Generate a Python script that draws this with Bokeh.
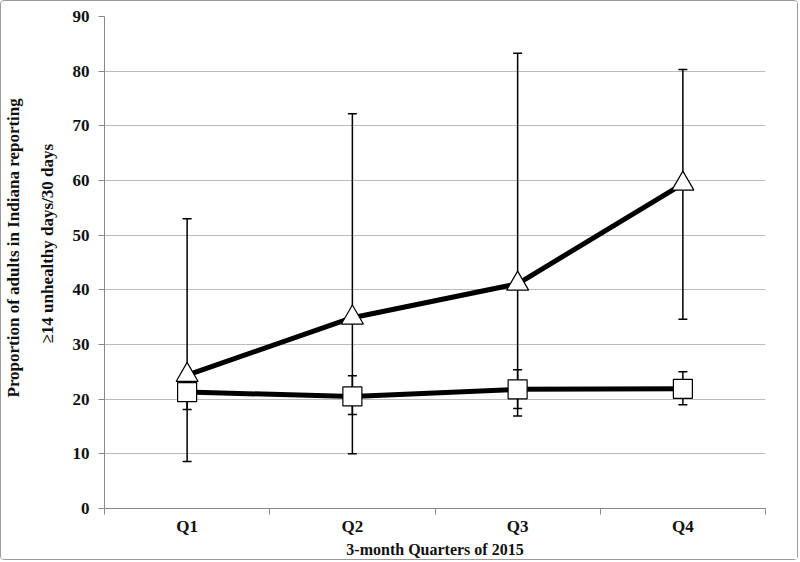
from bokeh.plotting import figure
from bokeh.models import ColumnDataSource, Whisker, TeeHead, FixedTicker, Range1d, Title
from bokeh.embed import file_html
from bokeh.resources import INLINE

quarters = ["Q1", "Q2", "Q3", "Q4"]
tri_vals = [24.4, 34.9, 41.1, 59.4]
tri_low = [8.6, 10.0, 16.9, 34.6]
tri_high = [53.0, 72.2, 83.3, 80.3]
sq_vals = [21.3, 20.5, 21.8, 21.9]
sq_low = [18.1, 17.2, 18.3, 19.0]
sq_high = [22.8, 24.3, 25.4, 25.0]
y_ticks = [0, 10, 20, 30, 40, 50, 60, 70, 80, 90]
x_title = "3-month Quarters of 2015"
y_title_lines = ["Proportion of adults in Indiana reporting", "≥14 unhealthy days/30 days"]

FONT = "Liberation Serif"
xs = [i + 1 for i in range(len(quarters))]

p = figure(width=798, height=560, output_backend="svg", toolbar_location=None,
           x_range=Range1d(0.5, len(quarters) + 0.5), y_range=Range1d(0, 90),
           min_border_left=102, min_border_right=34, min_border_top=15, min_border_bottom=53)
p.styles = {"border": "1px solid #9a9a9a", "border-radius": "4px"}
p.outline_line_color = None
p.background_fill_color = "white"
p.border_fill_color = "white"

# grid
p.xgrid.grid_line_color = None
p.ygrid.grid_line_color = "#bcbcbc"
p.ygrid.grid_line_width = 1

# axes
p.yaxis.ticker = FixedTicker(ticks=y_ticks)
p.xaxis.ticker = FixedTicker(ticks=xs, minor_ticks=[x - 0.5 for x in xs] + [xs[-1] + 0.5])
p.xaxis.major_label_overrides = {x: q for x, q in zip(xs, quarters)}
p.xaxis.major_tick_line_color = None
p.xaxis.minor_tick_line_color = "#8a8a8a"
p.xaxis.minor_tick_out = 6
p.xaxis.minor_tick_in = 0
p.yaxis.minor_tick_line_color = None
p.yaxis.major_tick_line_color = "#8a8a8a"
p.yaxis.major_tick_out = 6
p.yaxis.major_tick_in = 0
for ax in (p.xaxis, p.yaxis):
    ax.axis_line_color = "#8a8a8a"
    ax.major_label_text_font = FONT
    ax.major_label_text_font_style = "bold"
    ax.major_label_text_font_size = "17px"
    ax.major_label_text_color = "#111111"
    ax.axis_label_text_font = FONT
    ax.axis_label_text_font_style = "bold"
    ax.axis_label_text_color = "#111111"
p.xaxis.axis_label_text_font_size = "16px"
p.xaxis.major_label_standoff = 2
p.xaxis.axis_label_standoff = 2
p.yaxis.major_label_standoff = 9
p.xaxis.axis_label = x_title

# y-axis title as two stacked left titles (nearest to the axis first)
for txt, so, off in ((y_title_lines[1], 26, 165), (y_title_lines[0], 0, 111)):
    t = Title(text=txt, align="left", offset=off, standoff=so,
              text_font=FONT, text_font_style="bold", text_font_size="17px",
              text_color="#111111")
    p.add_layout(t, "left")

tri_src = ColumnDataSource(dict(x=xs, y=tri_vals, lo=tri_low, hi=tri_high))
sq_src = ColumnDataSource(dict(x=xs, y=sq_vals, lo=sq_low, hi=sq_high))

for src in (tri_src, sq_src):
    w = Whisker(source=src, base="x", lower="lo", upper="hi", line_color="black", line_width=1.5,
                upper_head=TeeHead(size=9, line_color="black", line_width=1.5),
                lower_head=TeeHead(size=9, line_color="black", line_width=1.5))
    p.add_layout(w)

p.line("x", "y", source=tri_src, line_color="black", line_width=5)
p.line("x", "y", source=sq_src, line_color="black", line_width=5)
p.scatter("x", "y", source=tri_src, marker="triangle", size=22, fill_color="white",
          line_color="black", line_width=1.2)
p.scatter("x", "y", source=sq_src, marker="square", size=19, fill_color="white",
          line_color="black", line_width=1.2)

open("out.html", "w").write(file_html(p, INLINE))
